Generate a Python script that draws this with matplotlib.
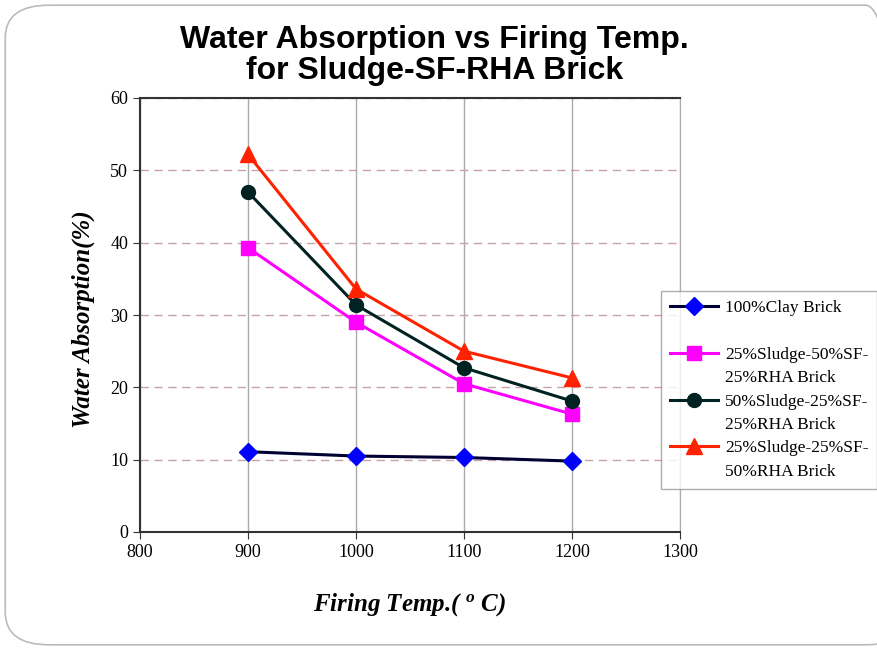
import matplotlib.pyplot as plt
from matplotlib.lines import Line2D
from matplotlib.patches import FancyBboxPatch

# data
temps = [900, 1000, 1100, 1200]
clay = [11.1, 10.5, 10.3, 9.8]
mix_50sf = [39.3, 29.0, 20.5, 16.3]
mix_50sludge = [47.0, 31.4, 22.7, 18.1]
mix_50rha = [52.2, 33.6, 25.0, 21.3]
labels = ["100%Clay Brick",
          "25%Sludge-50%SF-\n25%RHA Brick",
          "50%Sludge-25%SF-\n25%RHA Brick",
          "25%Sludge-25%SF-\n50%RHA Brick"]

plt.rcParams["mathtext.fontset"] = "custom"
plt.rcParams["mathtext.it"] = "Liberation Serif:italic:bold"
plt.rcParams["mathtext.rm"] = "Liberation Serif:bold"

fig = plt.figure(figsize=(8.78, 6.5), dpi=100)
ax = fig.add_axes([140 / 878, 1 - 532 / 650, 540 / 878, 434 / 650])

# slide frame
frame = FancyBboxPatch((0.006, 0.008), 1.03, 0.984, boxstyle="round,pad=0,rounding_size=0.05",
                       transform=fig.transFigure, fill=False, edgecolor="#bbbbbb", lw=1.2)
fig.patches.append(frame)

l1, = ax.plot(temps, clay, color="#000033", lw=2.2, marker="D", ms=9,
              mfc="#0000ff", mec="#0000ff")
l2, = ax.plot(temps, mix_50sf, color="#ff00ff", lw=2.2, marker="s", ms=10,
              mfc="#ff00ff", mec="#ff00ff")
l3, = ax.plot(temps, mix_50sludge, color="#002222", lw=2.2, marker="o", ms=10,
              mfc="#002222", mec="#002222")
l4, = ax.plot(temps, mix_50rha, color="#ff2200", lw=2.2, marker="^", ms=11,
              mfc="#ff2200", mec="#ff2200")

ax.set_xlim(800, 1300)
ax.set_ylim(0, 60)
ax.set_xticks(range(800, 1301, 100))
ax.set_yticks(range(0, 61, 10))
ax.xaxis.grid(True, color="#aaaaaa", lw=1)
ax.yaxis.grid(True, color="#c8a0a8", lw=1, ls=(0, (6, 4)))
ax.set_axisbelow(True)
for s in ["left", "bottom", "top"]:
    ax.spines[s].set_color("#333333")
    ax.spines[s].set_linewidth(1.5)
ax.spines["right"].set_color("#aaaaaa")

ax.tick_params(labelsize=13, direction="out", length=5, color="#333333")
for t in ax.get_xticklabels() + ax.get_yticklabels():
    t.set_fontfamily("Liberation Serif")

ax.set_xlabel("Firing Temp.( $^{o}$ C)", fontsize=18, fontfamily="Liberation Serif",
              fontweight="bold", fontstyle="italic", labelpad=22)
ax.set_ylabel("Water Absorption(%)", fontsize=18, fontfamily="Liberation Serif",
              fontweight="bold", fontstyle="italic")
ax.yaxis.set_label_coords(-0.083, 0.49)

fig.text(0.495, 0.914, "Water Absorption vs Firing Temp.\nfor Sludge-SF-RHA Brick",
         ha="center", va="center", fontsize=23, fontweight="bold",
         fontfamily="Liberation Sans", linespacing=1.05)

# legend: one row per text line, second lines get an empty handle
blank = Line2D([], [], color="none")
handles, texts = [l1, blank], [labels[0], " "]
for h, lab in zip([l2, l3, l4], labels[1:]):
    first, second = lab.split("\n")
    handles += [h, blank]
    texts += [first, second]

leg = fig.legend(handles, texts, loc="upper left", bbox_to_anchor=(661 / 878, 1 - 291 / 650),
                 prop={"family": "Liberation Serif", "size": 12.5}, frameon=True,
                 fancybox=False, edgecolor="#999999", handlelength=2.8,
                 borderpad=0.5, labelspacing=0.42, handletextpad=0.4, borderaxespad=0)
leg.get_frame().set_linewidth(1)

fig.savefig("out.png", dpi=100)
